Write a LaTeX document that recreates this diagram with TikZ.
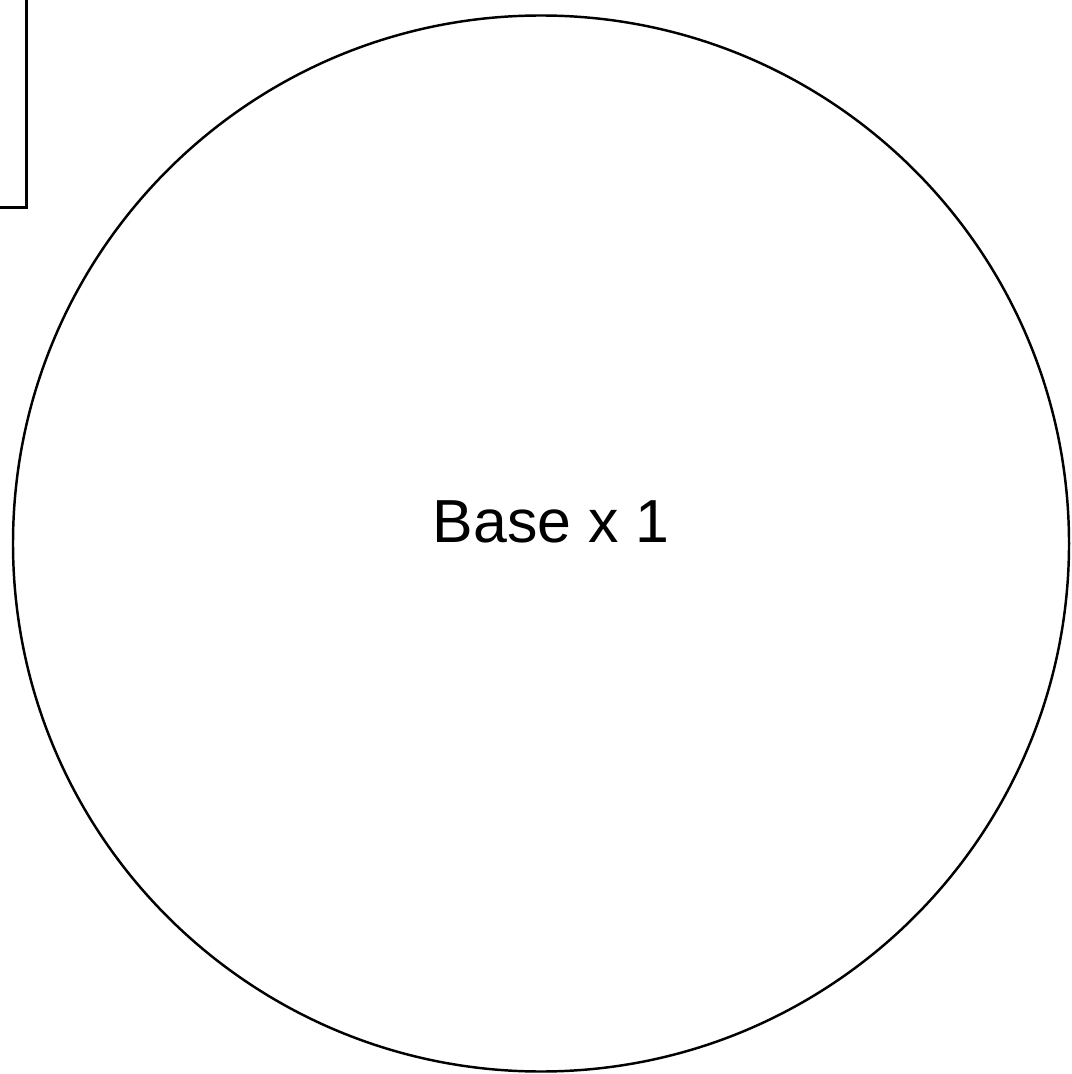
\documentclass[tikz,border=0pt]{standalone}
\usepackage{fontspec}
\setmainfont{Liberation Sans}
\usetikzlibrary{positioning}

\begin{document}
\begin{tikzpicture}[
    x=0.1mm, y=-0.1mm,
    every node/.style={font=\fontsize{17.3}{21}\selectfont},
    bx/.style={rectangle, draw=black, line width=0.8pt},
    ring/.style={circle, draw=black, line width=0.7pt, inner sep=0pt,
        minimum size=105.6mm},
]
    \useasboundingbox (0,0) rectangle (1071,1074);
    \clip (0,0) rectangle (1071,1074);

    % Box cut off at the top left
    \node[bx, minimum width=20mm, minimum height=25mm, anchor=south east]
        (part) at (28,209) {};

    % Base
    \node[ring] (base) at (541,543.5) {};
    \node (label) at (551,522) {Base x 1};
\end{tikzpicture}
\end{document}
